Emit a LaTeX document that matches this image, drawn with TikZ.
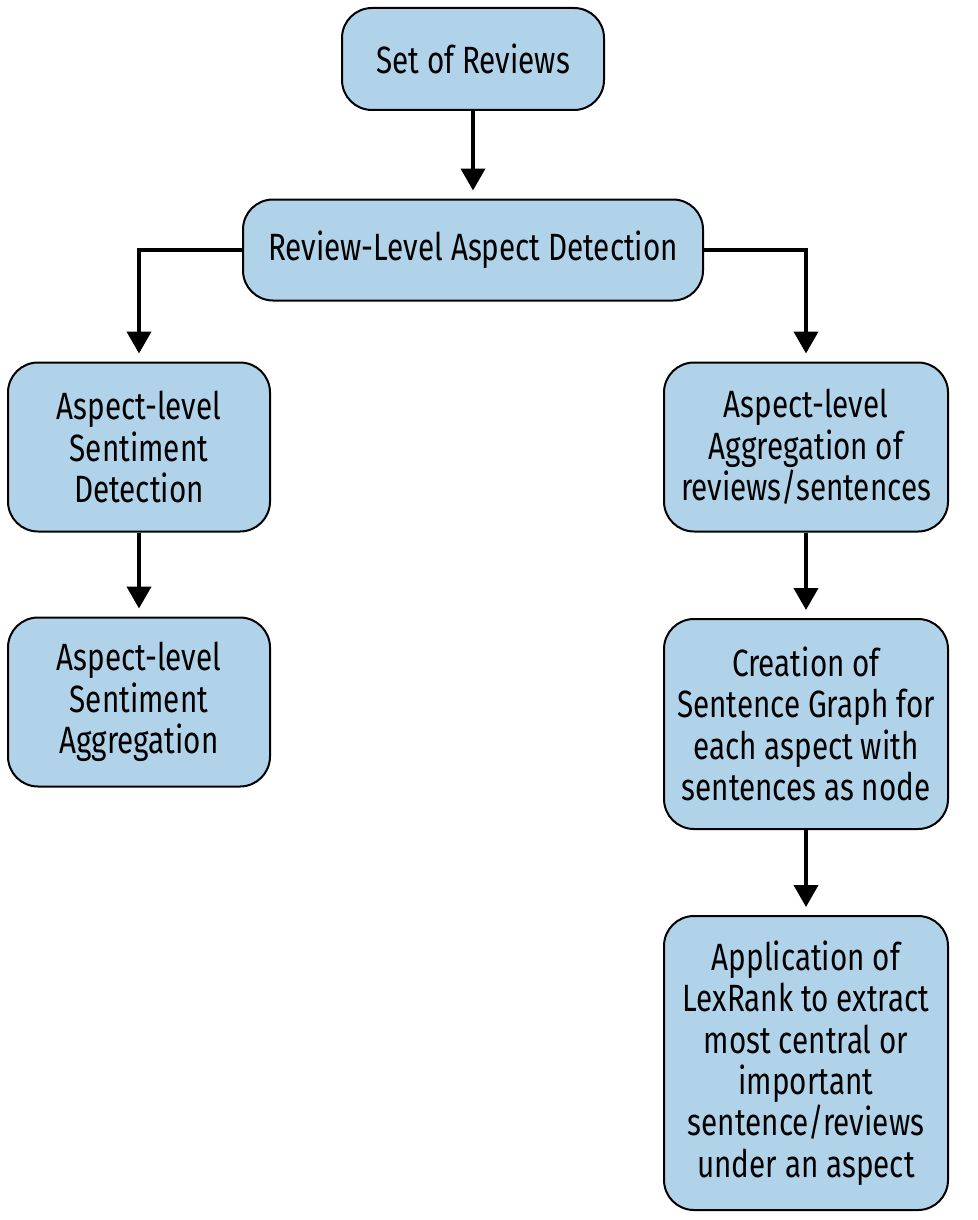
\documentclass[tikz,border=0pt]{standalone}
\usepackage{fontspec}
\setmainfont{Fira Sans}[FakeStretch=0.78]
\usepackage{xcolor}
\usepackage{tikz}
\usetikzlibrary{arrows.meta}
\definecolor{boxblue}{HTML}{B1D3EA}

\tikzset{
	box/.style={draw, line width=1pt, fill=boxblue, rounded corners=15pt,
		align=center, inner sep=0pt, font=\fontsize{19}{20.7}\selectfont},
	flow/.style={-{Triangle[width=12pt,length=11pt]}, line width=2pt, shorten >=4pt}
}

\begin{document}
\begin{tikzpicture}[x=0.5pt,y=-0.5pt]
		\useasboundingbox (0,0) rectangle (978,1220);
		\node[box, minimum width=131pt, minimum height=51pt] (set) at (473,59) {Set of Reviews};
		\node[box, minimum width=230pt, minimum height=50.5pt] (rlad) at (473,250) {Review-Level Aspect Detection};
		\node[box, minimum width=131pt, minimum height=84.5pt] (asd) at (139,447) {Aspect-level\\Sentiment\\Detection};
		\node[box, minimum width=131pt, minimum height=84.5pt] (asa) at (139,702) {Aspect-level\\Sentiment\\Aggregation};
		\node[box, minimum width=142pt, minimum height=84.5pt] (aag) at (806,447) {Aspect-level\\Aggregation of\\reviews/sentences};
		\node[box, minimum width=142pt, minimum height=105pt] (csg) at (806,724) {Creation of\\Sentence Graph for\\each aspect with\\sentences as node};
		\node[box, minimum width=142pt, minimum height=147pt] (lex) at (806,1063) {Application of\\LexRank to extract\\most central or\\important\\sentence/reviews\\under an aspect};
		%
		% straight arrows
		\path[flow]
		(set) edge (rlad)
		(asd) edge (asa)
		(aag) edge (csg)
		(csg) edge (lex);
		% elbow arrows
		\draw[flow] (rlad.west) -| (asd.north);
		\draw[flow] (rlad.east) -| (aag.north);
	\end{tikzpicture}
\end{document}
